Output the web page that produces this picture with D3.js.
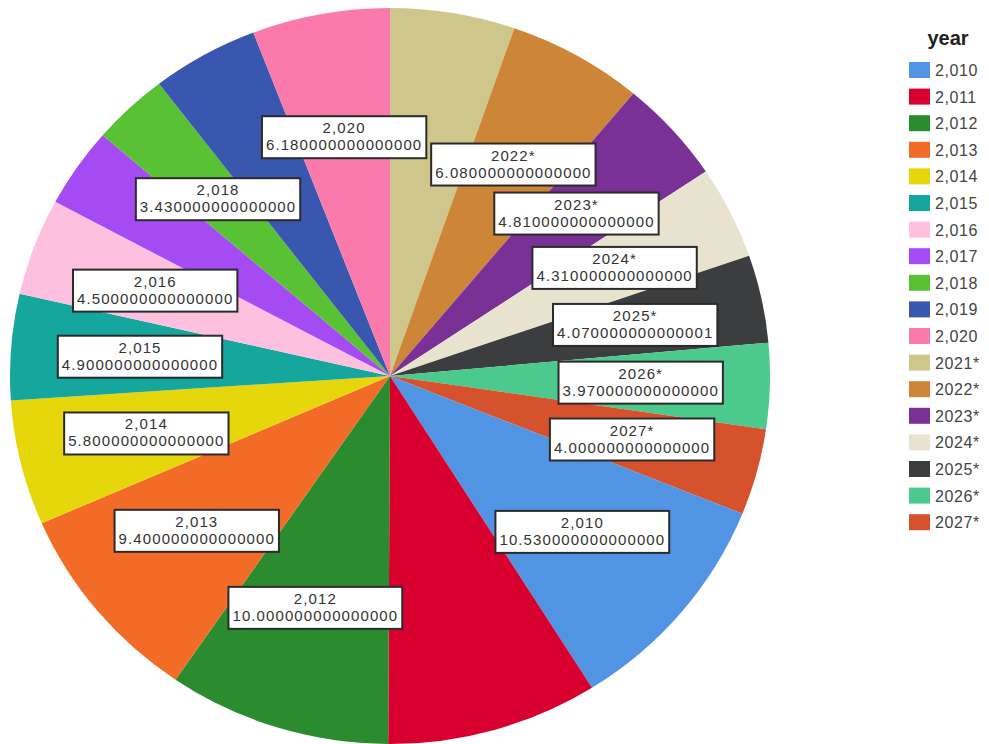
<!DOCTYPE html>
<html>
<head>
<meta charset="utf-8">
<script src="https://cdn.jsdelivr.net/npm/d3@7"></script>
<style>
  body { margin: 0; background: #fff; }
  svg { display: block; }
  text { font-family: "Liberation Sans", Arial, sans-serif; }
</style>
</head>
<body>
<svg id="main-svg" width="989" height="744"></svg>
<script>
// slices in drawing order, clockwise from 12 o'clock
const years = ["2021*", "2022*", "2023*", "2024*", "2025*", "2026*", "2027*",
  "2,010", "2,011", "2,012", "2,013", "2,014", "2,015", "2,016", "2,017", "2,018", "2,019", "2,020"];
const values = [5.6, 6.08, 4.81, 4.31, 4.07, 3.97, 4.0,
  10.53, 9.5, 10.0, 9.4, 5.8, 4.9, 4.5, 3.7, 3.43, 4.8, 6.18];
// value text as printed in the boxes (null = no box shown)
const valueLabels = [null, "6.080000000000000", "4.810000000000000", "4.310000000000000",
  "4.070000000000001", "3.970000000000000", "4.000000000000000",
  "10.530000000000000", null, "10.000000000000000", "9.400000000000000",
  "5.800000000000000", "4.900000000000000", "4.500000000000000", null,
  "3.430000000000000", null, "6.180000000000000"];

// legend order
const legendYears = ["2,010", "2,011", "2,012", "2,013", "2,014", "2,015", "2,016", "2,017",
  "2,018", "2,019", "2,020", "2021*", "2022*", "2023*", "2024*", "2025*", "2026*", "2027*"];
const legendColors = ["#5294e4", "#d7002e", "#2a8c2e", "#f26b27", "#e6d60c", "#15a69e",
  "#fdc0de", "#a54bf4", "#59c134", "#3a57b0", "#fa7aab", "#cfc68c", "#cd8537",
  "#7a3196", "#e8e3cf", "#3b3d3f", "#4cc98c", "#d6522c"];

const color = d3.scaleOrdinal().domain(legendYears).range(legendColors);

const cx = 390, cy = 376, R = 368, sx = 380 / 368;
const svg = d3.select("#main-svg");

const pie = d3.pie().sort(null).value(d => d.v);
const arcs = pie(years.map((y, i) => ({ y: y, v: values[i], lab: valueLabels[i] })));
const arc = d3.arc().innerRadius(0).outerRadius(R);

svg.append("g")
  .attr("transform", `translate(${cx},${cy}) scale(${sx},1)`)
  .selectAll("path")
  .data(arcs)
  .join("path")
  .attr("d", arc)
  .attr("fill", d => color(d.data.y));

// label boxes
const labelArc = d3.arc().innerRadius(R * 0.66).outerRadius(R * 0.66);
const labels = svg.append("g")
  .selectAll("g")
  .data(arcs.filter(d => d.data.lab))
  .join("g")
  .attr("transform", d => {
    const c = labelArc.centroid(d);
    return `translate(${cx + c[0] * sx},${cy + c[1]})`;
  });

labels.append("text")
  .attr("class", "l1")
  .attr("text-anchor", "middle")
  .attr("y", -4)
  .attr("font-size", 15)
  .attr("letter-spacing", 1.1)
  .attr("fill", "#333")
  .text(d => d.data.y);

labels.append("text")
  .attr("class", "l2")
  .attr("text-anchor", "middle")
  .attr("y", 13)
  .attr("font-size", 15)
  .attr("letter-spacing", 1.1)
  .attr("fill", "#333")
  .text(d => d.data.lab);

labels.each(function() {
  const g = d3.select(this);
  const w = g.select(".l2").node().getComputedTextLength() + 8;
  g.insert("rect", "text")
    .attr("x", -w / 2)
    .attr("y", -21)
    .attr("width", w)
    .attr("height", 42)
    .attr("fill", "#fff")
    .attr("stroke", "#2b2b2b")
    .attr("stroke-width", 2);
});

// legend
const legend = svg.append("g").attr("transform", "translate(909,0)");
legend.append("text")
  .attr("x", 39)
  .attr("y", 45)
  .attr("text-anchor", "middle")
  .attr("font-size", 20)
  .attr("font-weight", "bold")
  .attr("fill", "#222")
  .text("year");

const item = legend.selectAll("g.item")
  .data(legendYears)
  .join("g")
  .attr("class", "item")
  .attr("transform", (d, i) => `translate(0,${70 + i * 26.6})`);

item.append("rect")
  .attr("x", 0)
  .attr("y", -8)
  .attr("width", 21)
  .attr("height", 16)
  .attr("fill", d => color(d));

item.append("text")
  .attr("x", 26)
  .attr("y", 6)
  .attr("font-size", 16)
  .attr("letter-spacing", 0.6)
  .attr("fill", "#444")
  .text(d => d);
</script>
</body>
</html>
